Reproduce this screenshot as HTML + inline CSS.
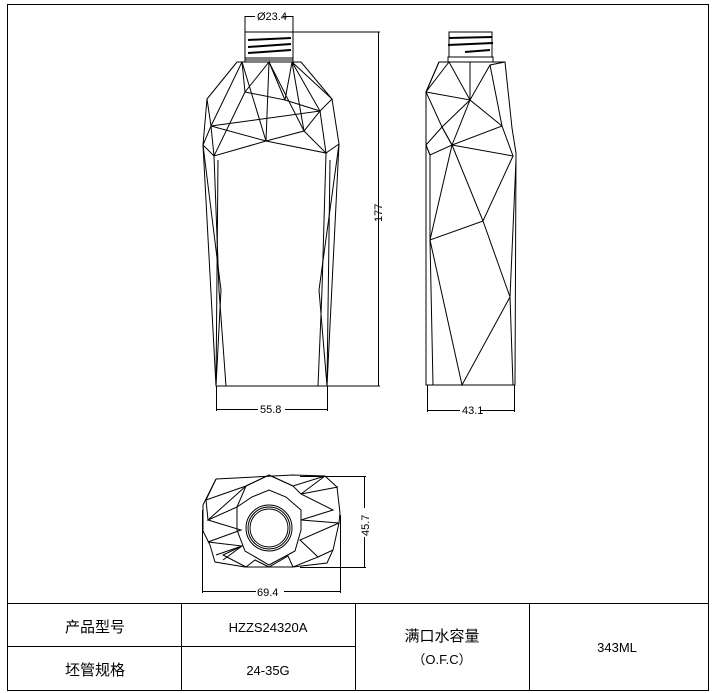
<!DOCTYPE html>
<html><head><meta charset="utf-8"><style>
body{margin:0;background:#fff;width:714px;height:693px;overflow:hidden}
svg{display:block}
text{font-family:"Liberation Sans","Noto Sans CJK SC",sans-serif;fill:#000}
</style></head><body>
<svg width="714" height="693" viewBox="0 0 714 693" xmlns="http://www.w3.org/2000/svg">
<g fill="none" stroke="#000" stroke-width="1">
<!-- frame -->
<rect x="7.5" y="4.5" width="701" height="686"/>
<line x1="7" y1="603.5" x2="708" y2="603.5"/>
<line x1="7" y1="646.5" x2="355" y2="646.5"/>
<line x1="181.5" y1="603" x2="181.5" y2="690"/>
<line x1="355.5" y1="603" x2="355.5" y2="690"/>
<line x1="529.5" y1="603" x2="529.5" y2="690"/>

<!-- FRONT VIEW -->
<rect x="245" y="32" width="48" height="28"/>
<line x1="248" y1="40" x2="291" y2="38" stroke-width="2"/>
<line x1="248" y1="47" x2="291" y2="44" stroke-width="2"/>
<line x1="248" y1="53" x2="291" y2="50" stroke-width="2"/>
<rect x="245" y="58" width="48" height="4"/>
<polyline points="237,62 207,99 203,145 216,386 327,386 339,144 332,99 301,62 237,62"/>
<polyline points="242,62 211,126 214,156 245,92 242,62 266,141 269,62 245,92 285,100 269,62 304,131 292,62 285,100 320,111 292,62 332,99 320,111 326,153 339,144"/>
<polyline points="211,126 266,141 304,131 320,111 211,126"/>
<polyline points="207,99 211,126 203,145 214,156 266,141 326,153 304,131"/>
<polyline points="214,156 219,290 226,386"/>
<polyline points="203,145 221,290 216,386"/>
<polyline points="326,153 322,290 318,386"/>
<polyline points="339,144 319,290 327,386"/>
<line x1="218" y1="160" x2="216" y2="386"/>
<line x1="330" y1="160" x2="327" y2="386"/>
<!-- dims front -->
<line x1="293" y1="32" x2="380" y2="32"/>
<line x1="378.5" y1="32" x2="378.5" y2="386"/>
<line x1="327" y1="386" x2="380" y2="386"/>
<line x1="245" y1="16" x2="245" y2="32"/><line x1="293" y1="16" x2="293" y2="32"/>
<line x1="245" y1="16.5" x2="255" y2="16.5"/><line x1="283" y1="16.5" x2="293" y2="16.5"/>
<line x1="216.5" y1="386" x2="216.5" y2="411"/><line x1="327.5" y1="386" x2="327.5" y2="411"/>
<line x1="216" y1="409.5" x2="258" y2="409.5"/><line x1="285" y1="409.5" x2="327" y2="409.5"/>

<!-- SIDE VIEW -->
<rect x="449" y="32" width="43" height="25"/>
<line x1="449" y1="38" x2="492" y2="37" stroke-width="2"/>
<line x1="448" y1="45" x2="493" y2="43" stroke-width="2"/>
<line x1="465" y1="52" x2="490" y2="50" stroke-width="2"/>
<rect x="448" y="57" width="45" height="5"/>
<polyline points="439,62 426,92 426,385 515,385 516,153 512,128 505,62 439,62"/>
<polyline points="439,62 426,92 470,100 490,65 505,62"/>
<polyline points="449,62 426,92 442,127 470,100 449,62"/>
<line x1="470" y1="62" x2="470" y2="100"/>
<polyline points="490,65 502,126 470,100 452,145 442,127 426,145 430,155 452,145 513,156 502,126 452,145 483,221 513,156"/>
<polyline points="442,127 452,145"/>
<polyline points="426,145 430,155"/>
<polyline points="452,145 430,240 483,221 510,297 462,385 430,240 433,385"/>
<line x1="430" y1="155" x2="430" y2="240"/>
<line x1="516" y1="160" x2="510" y2="297"/>
<line x1="510" y1="297" x2="513" y2="385"/>
<line x1="427.5" y1="385" x2="427.5" y2="412"/><line x1="514.5" y1="385" x2="514.5" y2="412"/>
<line x1="427" y1="410.5" x2="460" y2="410.5"/><line x1="481" y1="410.5" x2="514" y2="410.5"/>

<!-- TOP VIEW -->
<polyline points="216,479 293,475 325,476 337,487 340,513 339,523 333,550 327,563 293,567 245,567 215,562 210,545 203,531 203,505 216,479"/>
<polyline points="216,479 206,500 246,486 269,475 293,486 325,476 301,494 338,487"/>
<polyline points="206,500 208,520 246,486 237,507 208,520 241,530 208,542 242,546 223,555 246,567 255,560 269,567 288,556 293,567 318,557 300,540 339,523 301,520 333,510 301,494 293,486 269,475 246,486"/>
<polyline points="237,507 252,497 269,490 286,497 301,510 301,530 295,551 269,565 245,551 237,530 237,507"/>
<polyline points="216,555 242,546 223,560"/>
<polyline points="318,557 333,550"/>
<circle cx="269" cy="528" r="23"/>
<circle cx="269" cy="528" r="21"/>
<circle cx="269" cy="528" r="19"/>
<line x1="300" y1="476.5" x2="366" y2="476.5"/>
<line x1="300" y1="567.5" x2="366" y2="567.5"/>
<line x1="364.5" y1="476" x2="364.5" y2="508"/><line x1="364.5" y1="537" x2="364.5" y2="568"/>
<line x1="202.5" y1="510" x2="202.5" y2="593"/><line x1="340.5" y1="515" x2="340.5" y2="593"/>
<line x1="202" y1="591.5" x2="256" y2="591.5"/><line x1="284" y1="591.5" x2="340" y2="591.5"/>
</g>
<g font-size="11">
<text x="257" y="20">Ø23.4</text>
<text x="260" y="413">55.8</text>
<text x="462" y="414">43.1</text>
<text x="257" y="596">69.4</text>
<text transform="translate(382,222) rotate(-90)">177</text>
<text transform="translate(369,536) rotate(-90)">45.7</text>
</g>
<g font-size="15" text-anchor="middle">
<text x="95" y="632">产品型号</text>
<text x="95" y="675">坯管规格</text>
<text x="268" y="632" font-size="13">HZZS24320A</text>
<text x="268" y="675" font-size="13">24-35G</text>
<text x="442" y="641">满口水容量</text>
<text x="442" y="664" font-size="13">（O.F.C）</text>
<text x="617" y="652" font-size="13">343ML</text>
</g>
</svg>
</body></html>
